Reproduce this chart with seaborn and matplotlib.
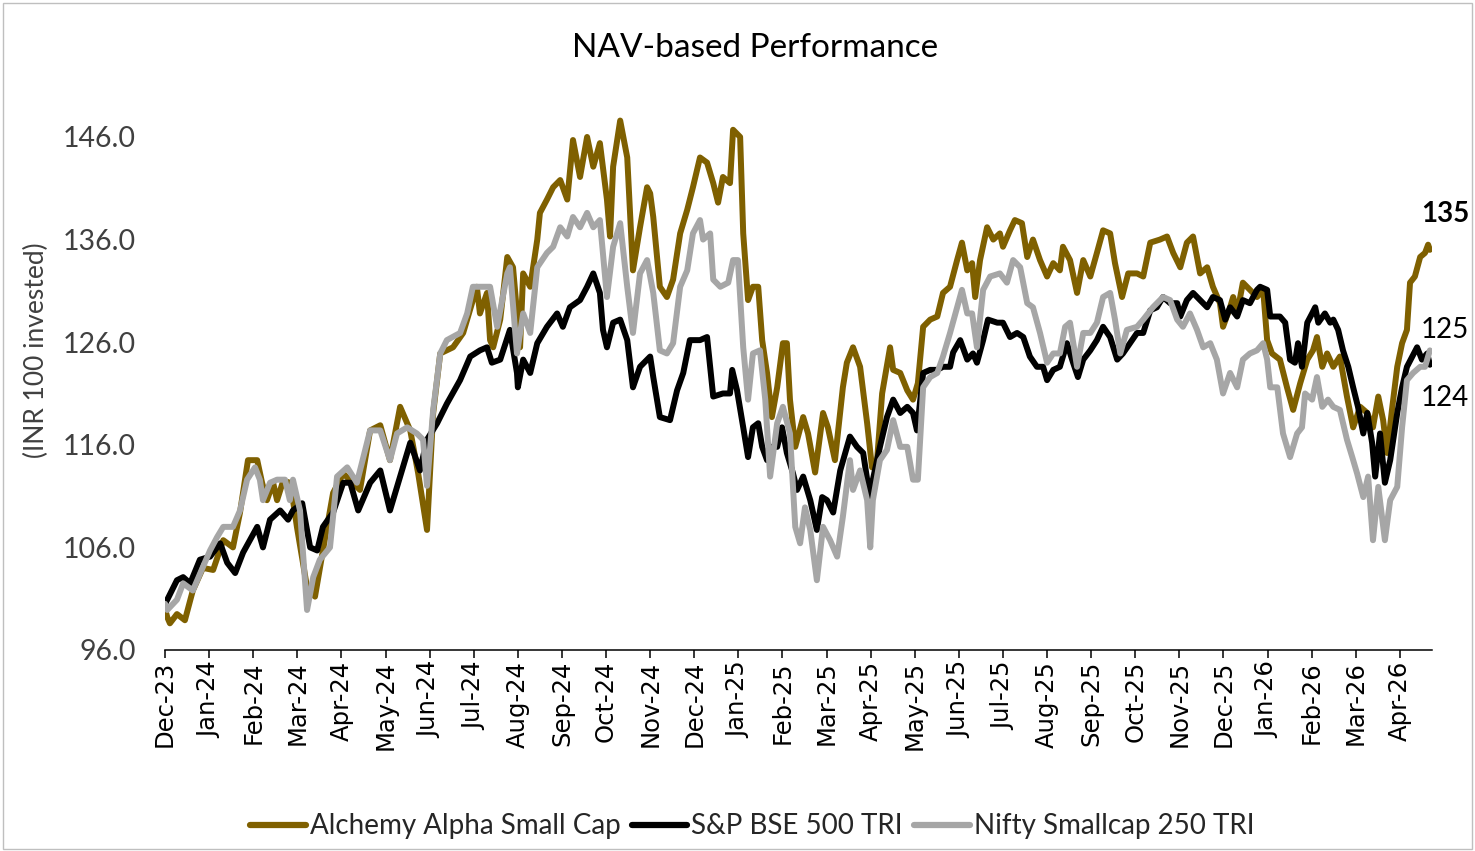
import matplotlib
matplotlib.use("Agg")
import matplotlib.pyplot as plt
from matplotlib.lines import Line2D
from matplotlib.patches import Rectangle
import pandas as pd
import seaborn as sns

# x = months since start of Dec-23, y = value of INR 100 invested
month_labels = ["Dec-23", "Jan-24", "Feb-24", "Mar-24", "Apr-24", "May-24", "Jun-24", "Jul-24",
                "Aug-24", "Sep-24", "Oct-24", "Nov-24", "Dec-24", "Jan-25", "Feb-25", "Mar-25",
                "Apr-25", "May-25", "Jun-25", "Jul-25", "Aug-25", "Sep-25", "Oct-25", "Nov-25",
                "Dec-25", "Jan-26", "Feb-26", "Mar-26", "Apr-26"]

alchemy = [
    (0.00, 100.0), (0.05, 99.2), (0.11, 98.6), (0.27, 99.5), (0.45, 98.9), (0.63, 101.8), (0.86, 104.0),
    (1.09, 103.8), (1.32, 106.7), (1.54, 106.0), (1.70, 109.4), (1.88, 114.5), (2.09, 114.5), (2.20, 112.3),
    (2.31, 110.6), (2.45, 112.3), (2.54, 110.6), (2.68, 112.5), (2.83, 112.3), (2.90, 110.6), (2.99, 108.0),
    (3.22, 102.1), (3.40, 101.2), (3.58, 105.7), (3.81, 111.3), (4.04, 113.2), (4.42, 111.6), (4.65, 117.4),
    (4.88, 117.9), (5.10, 114.5), (5.33, 119.7), (5.56, 117.4), (5.74, 113.2), (5.94, 107.7), (6.08, 119.1),
    (6.24, 124.9), (6.53, 125.5), (6.76, 126.9), (6.98, 130.1), (7.07, 131.4), (7.14, 128.8), (7.30, 130.8),
    (7.37, 126.2), (7.44, 125.5), (7.60, 128.2), (7.76, 134.3), (7.89, 133.3), (8.05, 125.5), (8.12, 132.7),
    (8.28, 131.4), (8.44, 136.0), (8.50, 138.6), (8.66, 139.9), (8.80, 141.1), (8.96, 141.8), (9.12, 139.9),
    (9.25, 145.7), (9.41, 142.1), (9.57, 146.0), (9.71, 143.1), (9.86, 145.4), (10.02, 139.9), (10.09, 136.3),
    (10.16, 143.1), (10.32, 147.6), (10.48, 144.0), (10.61, 133.0), (10.77, 137.2), (10.93, 141.1),
    (11.00, 140.5), (11.07, 138.2), (11.22, 131.4), (11.38, 130.4), (11.52, 132.1), (11.68, 136.6),
    (11.84, 138.9), (11.97, 141.1), (12.13, 144.0), (12.29, 143.5), (12.43, 141.5), (12.54, 139.6),
    (12.65, 142.1), (12.81, 141.5), (12.88, 146.7), (13.04, 146.0), (13.11, 136.6), (13.22, 130.1),
    (13.33, 131.4), (13.45, 131.4), (13.54, 126.2), (13.65, 123.0), (13.76, 118.7), (13.88, 121.6),
    (14.01, 125.9), (14.10, 125.9), (14.17, 120.4), (14.29, 115.8), (14.47, 118.7), (14.58, 117.1),
    (14.74, 113.3), (14.92, 119.1), (15.03, 117.7), (15.19, 114.5), (15.37, 121.6), (15.46, 124.0),
    (15.60, 125.5), (15.76, 123.6), (15.92, 118.1), (16.03, 113.8), (16.14, 114.2), (16.26, 121.0),
    (16.44, 125.5), (16.51, 123.3), (16.67, 123.0), (16.83, 121.3), (16.96, 120.4), (17.07, 122.0),
    (17.19, 127.5), (17.35, 128.2), (17.51, 128.5), (17.64, 130.8), (17.80, 131.4), (17.96, 134.0),
    (18.07, 135.7), (18.19, 133.0), (18.30, 133.7), (18.37, 130.4), (18.48, 134.0), (18.64, 137.2),
    (18.78, 136.0), (18.93, 136.6), (19.00, 135.3), (19.16, 136.9), (19.27, 137.9), (19.43, 137.6),
    (19.55, 134.3), (19.68, 136.0), (19.84, 134.0), (20.00, 132.4), (20.14, 133.7), (20.29, 133.0),
    (20.36, 135.3), (20.52, 134.0), (20.68, 130.8), (20.82, 134.0), (20.98, 132.4), (21.13, 134.7),
    (21.27, 136.9), (21.43, 136.6), (21.54, 133.7), (21.70, 130.4), (21.84, 132.7), (22.04, 132.7),
    (22.18, 132.4), (22.34, 135.7), (22.56, 136.0), (22.72, 136.3), (22.86, 134.7), (23.02, 133.3),
    (23.17, 135.7), (23.31, 136.3), (23.47, 132.7), (23.63, 133.3), (23.76, 131.4), (23.92, 129.8),
    (23.99, 127.5), (24.15, 129.4), (24.22, 130.4), (24.31, 128.8), (24.44, 131.8), (24.60, 131.1),
    (24.76, 130.4), (24.90, 131.1), (24.99, 126.2), (25.10, 124.9), (25.28, 124.3), (25.44, 121.6),
    (25.58, 119.4), (25.74, 122.0), (25.90, 124.3), (26.03, 125.2), (26.12, 126.5), (26.24, 123.6),
    (26.35, 124.9), (26.49, 123.6), (26.64, 124.6), (26.80, 120.7), (26.94, 117.7), (27.10, 119.7),
    (27.26, 119.1), (27.39, 117.7), (27.51, 120.7), (27.62, 118.4), (27.71, 115.2), (27.82, 119.4),
    (27.94, 123.6), (28.05, 125.9), (28.16, 127.2), (28.23, 131.8), (28.34, 132.4), (28.46, 134.3),
    (28.57, 134.7), (28.64, 135.5), (28.68, 135.0),
]

bse500 = [
    (0.00, 100.5), (0.05, 100.9), (0.27, 102.8), (0.41, 103.1), (0.57, 102.5), (0.79, 104.8), (1.02, 105.1),
    (1.25, 106.4), (1.41, 104.5), (1.59, 103.5), (1.77, 105.5), (2.09, 108.0), (2.22, 106.0), (2.38, 108.7),
    (2.61, 109.6), (2.79, 108.7), (2.90, 109.6), (3.11, 110.3), (3.29, 106.0), (3.45, 105.7), (3.58, 108.0),
    (3.81, 109.4), (4.04, 112.3), (4.20, 112.3), (4.38, 109.6), (4.65, 112.3), (4.88, 113.5), (5.10, 109.6),
    (5.33, 112.9), (5.56, 116.2), (5.78, 113.5), (5.94, 116.5), (6.17, 118.1), (6.39, 120.0), (6.69, 122.3),
    (6.92, 124.6), (7.14, 125.2), (7.30, 125.5), (7.41, 124.0), (7.60, 124.3), (7.82, 127.2), (7.98, 123.0),
    (8.00, 121.6), (8.12, 124.3), (8.28, 123.0), (8.44, 125.9), (8.66, 127.5), (8.89, 128.8), (9.02, 127.5),
    (9.18, 129.4), (9.41, 130.1), (9.57, 131.4), (9.71, 132.7), (9.86, 130.8), (9.93, 127.2), (10.02, 125.5),
    (10.16, 127.9), (10.32, 128.2), (10.48, 126.2), (10.61, 121.6), (10.77, 123.6), (11.00, 124.6),
    (11.07, 122.6), (11.22, 118.7), (11.45, 118.4), (11.61, 121.3), (11.75, 123.0), (11.90, 126.2),
    (12.13, 126.2), (12.29, 126.5), (12.43, 120.7), (12.65, 121.0), (12.81, 121.0), (12.86, 123.3),
    (12.97, 121.3), (13.11, 117.7), (13.22, 114.8), (13.33, 117.7), (13.45, 118.1), (13.54, 115.8),
    (13.65, 114.5), (13.76, 115.8), (13.88, 115.8), (13.99, 117.7), (14.10, 115.2), (14.24, 113.2),
    (14.33, 111.6), (14.47, 112.9), (14.63, 110.6), (14.78, 107.7), (14.90, 110.9), (15.01, 110.6),
    (15.15, 109.4), (15.31, 113.5), (15.53, 116.8), (15.69, 115.8), (15.83, 115.2), (15.99, 110.6),
    (16.05, 112.6), (16.21, 115.8), (16.37, 118.7), (16.51, 120.4), (16.67, 119.1), (16.83, 119.7),
    (16.96, 119.1), (17.05, 117.4), (17.19, 123.0), (17.35, 123.3), (17.51, 123.3), (17.64, 123.6),
    (17.80, 123.6), (17.87, 125.0), (18.03, 126.2), (18.19, 124.3), (18.32, 124.9), (18.41, 124.0),
    (18.55, 126.2), (18.66, 128.2), (18.87, 127.9), (19.00, 127.9), (19.16, 126.5), (19.32, 126.9),
    (19.46, 126.5), (19.61, 124.6), (19.77, 123.6), (19.91, 123.6), (20.00, 122.3), (20.14, 123.3),
    (20.29, 123.6), (20.45, 125.9), (20.59, 124.0), (20.70, 122.6), (20.82, 124.3), (20.98, 125.2),
    (21.13, 126.2), (21.27, 127.5), (21.43, 126.5), (21.59, 124.3), (21.72, 124.9), (21.88, 125.9),
    (22.04, 126.9), (22.18, 126.9), (22.34, 129.1), (22.49, 129.4), (22.63, 130.4), (22.79, 129.8),
    (22.95, 129.8), (23.02, 128.5), (23.17, 130.1), (23.31, 130.8), (23.47, 130.1), (23.63, 129.4),
    (23.76, 130.4), (23.92, 130.1), (24.04, 128.2), (24.15, 129.4), (24.31, 128.5), (24.44, 130.1),
    (24.60, 129.8), (24.76, 131.1), (24.83, 131.4), (24.99, 131.1), (25.06, 128.5), (25.28, 128.5),
    (25.40, 127.9), (25.51, 124.3), (25.62, 124.0), (25.69, 125.9), (25.78, 123.6), (25.90, 127.9),
    (26.01, 128.8), (26.08, 129.4), (26.15, 127.9), (26.30, 128.8), (26.42, 127.9), (26.49, 128.2),
    (26.60, 127.2), (26.71, 125.2), (26.83, 123.6), (26.94, 121.6), (27.05, 119.7), (27.17, 117.1),
    (27.26, 119.1), (27.37, 116.2), (27.44, 112.9), (27.55, 117.1), (27.66, 112.3), (27.78, 114.5),
    (27.94, 119.1), (28.05, 121.6), (28.16, 123.6), (28.28, 124.6), (28.39, 125.5), (28.50, 124.3),
    (28.62, 124.9), (28.68, 123.8),
]

smallcap250 = [
    (0.00, 100.5), (0.05, 99.9), (0.27, 100.9), (0.41, 102.5), (0.63, 101.8), (0.86, 104.1), (1.02, 105.7),
    (1.18, 107.0), (1.32, 108.0), (1.54, 108.0), (1.70, 109.6), (1.86, 112.6), (2.04, 113.8), (2.15, 112.6),
    (2.22, 110.6), (2.38, 112.3), (2.54, 112.6), (2.72, 112.6), (2.83, 110.6), (2.90, 112.6), (3.06, 109.6),
    (3.22, 99.9), (3.36, 103.1), (3.51, 104.8), (3.74, 106.0), (3.90, 112.9), (4.13, 113.8), (4.35, 112.3),
    (4.65, 117.4), (4.88, 117.4), (5.10, 114.5), (5.26, 117.1), (5.49, 117.7), (5.71, 117.1), (5.85, 116.5),
    (5.94, 112.0), (6.08, 119.4), (6.24, 124.9), (6.39, 126.2), (6.69, 126.9), (6.85, 128.8), (6.98, 131.4),
    (7.21, 131.4), (7.37, 131.4), (7.53, 127.5), (7.76, 132.7), (7.82, 133.3), (7.98, 124.9), (8.12, 128.8),
    (8.28, 126.9), (8.44, 133.3), (8.66, 134.7), (8.80, 135.3), (8.96, 137.2), (9.12, 136.3), (9.25, 138.2),
    (9.41, 137.2), (9.57, 138.6), (9.71, 137.2), (9.86, 137.9), (10.02, 130.4), (10.16, 135.3),
    (10.32, 137.6), (10.48, 131.4), (10.61, 126.9), (10.77, 132.7), (10.93, 134.0), (11.07, 130.8),
    (11.22, 125.2), (11.38, 124.9), (11.52, 125.9), (11.68, 131.4), (11.84, 133.0), (11.97, 136.6),
    (12.13, 137.9), (12.20, 136.0), (12.36, 136.6), (12.43, 132.1), (12.59, 131.4), (12.77, 131.8),
    (12.88, 134.0), (12.99, 134.0), (13.11, 125.5), (13.22, 120.4), (13.33, 124.9), (13.49, 125.2),
    (13.61, 120.4), (13.72, 112.9), (13.88, 118.1), (14.01, 119.7), (14.17, 117.1), (14.29, 108.0),
    (14.40, 106.4), (14.51, 109.9), (14.63, 107.7), (14.78, 102.8), (14.92, 108.0), (15.08, 106.7),
    (15.24, 105.1), (15.37, 109.0), (15.53, 114.5), (15.60, 111.6), (15.76, 113.5), (15.92, 110.6),
    (15.99, 106.0), (16.05, 110.6), (16.21, 114.5), (16.37, 115.5), (16.51, 118.4), (16.67, 115.8),
    (16.83, 115.8), (16.96, 112.6), (17.07, 112.6), (17.19, 121.6), (17.35, 122.6), (17.51, 123.0),
    (17.64, 124.6), (17.80, 126.9), (17.96, 129.4), (18.07, 131.1), (18.19, 128.8), (18.30, 128.8),
    (18.41, 125.5), (18.55, 131.1), (18.71, 132.4), (18.93, 132.7), (19.09, 131.8), (19.23, 134.0),
    (19.39, 133.3), (19.55, 129.8), (19.68, 129.4), (19.84, 126.9), (20.00, 124.0), (20.14, 124.9),
    (20.29, 124.9), (20.41, 127.5), (20.52, 127.9), (20.68, 123.6), (20.82, 126.9), (20.98, 126.9),
    (21.13, 127.9), (21.27, 130.4), (21.43, 130.8), (21.54, 128.2), (21.66, 124.9), (21.81, 127.2),
    (22.04, 127.5), (22.18, 128.2), (22.40, 129.4), (22.63, 130.4), (22.79, 130.1), (22.95, 128.2),
    (23.08, 127.5), (23.24, 128.8), (23.40, 127.2), (23.54, 125.5), (23.70, 125.9), (23.85, 124.3),
    (23.99, 121.0), (24.15, 123.0), (24.31, 121.6), (24.44, 124.3), (24.60, 124.9), (24.76, 125.2),
    (24.90, 125.9), (24.99, 124.3), (25.06, 121.6), (25.22, 121.6), (25.35, 117.1), (25.51, 114.8),
    (25.67, 117.1), (25.78, 117.7), (25.85, 121.0), (26.01, 120.4), (26.12, 122.6), (26.24, 119.7),
    (26.37, 120.4), (26.49, 119.7), (26.64, 119.4), (26.80, 116.5), (26.92, 114.8), (27.03, 113.2),
    (27.17, 110.9), (27.28, 112.9), (27.39, 106.7), (27.51, 111.9), (27.66, 106.7), (27.78, 110.6),
    (27.94, 111.9), (28.05, 117.7), (28.16, 122.3), (28.30, 123.0), (28.46, 123.6), (28.57, 123.6),
    (28.68, 125.2),
]

series_names = ["Alchemy Alpha Small Cap", "S&P BSE 500 TRI", "Nifty Smallcap 250 TRI"]
series_colors = ["#7F6000", "#000000", "#A6A6A6"]
y_ticks = [96.0, 106.0, 116.0, 126.0, 136.0, 146.0]

frames = []
for name, pts in zip(series_names, [alchemy, bse500, smallcap250]):
    df = pd.DataFrame(pts, columns=["month", "nav"])
    df["series"] = name
    frames.append(df)
data = pd.concat(frames, ignore_index=True)

sns.set_theme(style="white")
plt.rcParams["font.family"] = ["Lato", "DejaVu Sans"]

fig = plt.figure(figsize=(14.75, 8.51), dpi=100)
ax = fig.add_axes([0.1119, 0.2362, 0.859, 0.6752])

palette = dict(zip(series_names, series_colors))
sns.lineplot(data=data, x="month", y="nav", hue="series", hue_order=series_names,
             palette=palette, linewidth=4.3, estimator=None, sort=False, legend=False, ax=ax)
for ln in ax.get_lines():
    ln.set_solid_joinstyle("round")

ax.set_xlim(0, 28.73)
ax.set_ylim(96, 152)
ax.set_xlabel("")
ax.set_ylabel("")

ax.set_xticks(range(len(month_labels)))
ax.set_xticklabels(month_labels, rotation=90, fontsize=17.5, family=["DejaVu Sans"], color="black")
ax.set_yticks(y_ticks)
ax.set_yticklabels([f"{v:.1f}" for v in y_ticks], fontsize=20.5, color="#404040")
ax.tick_params(axis="x", direction="out", length=6, width=1.1, color="black", pad=2, bottom=True)
ax.tick_params(axis="y", length=0, pad=21)

for side in ["left", "right", "top"]:
    ax.spines[side].set_visible(False)
ax.spines["bottom"].set_color("black")
ax.spines["bottom"].set_linewidth(1.1)
ax.grid(False)

# end-of-series value labels
ends = [(alchemy[-1], (-9, 36), "bold"), (smallcap250[-1], (-9, 20), "normal"),
        (bse500[-1], (-9, -33), "normal")]
for (mx, val), (dx, dy), weight in ends:
    ax.annotate(f"{round(val)}", xy=(mx, val), xytext=(dx, dy), textcoords="offset pixels",
                fontsize=20, fontweight=weight, color="black", ha="left", va="center",
                annotation_clip=False)

fig.text(0.512, 0.944, "NAV-based Performance", ha="center", va="center", fontsize=24, color="black")
fig.text(0.025, 0.589, "(INR 100 invested)", rotation=90, ha="center", va="center",
         fontsize=19, color="#404040")

handles = [Line2D([0], [0], color=c, linewidth=4.5) for c in series_colors]
fig.legend(handles, series_names, loc="center", bbox_to_anchor=(0.51, 0.029), ncol=3,
           frameon=False, fontsize=20, handlelength=2.0, handletextpad=0.15, columnspacing=0.4)

fig.patches.append(Rectangle((0.002, 0.002), 0.996, 0.995, transform=fig.transFigure,
                             fill=False, edgecolor="#BFBFBF", linewidth=1))

fig.savefig("out.png", dpi=100)
